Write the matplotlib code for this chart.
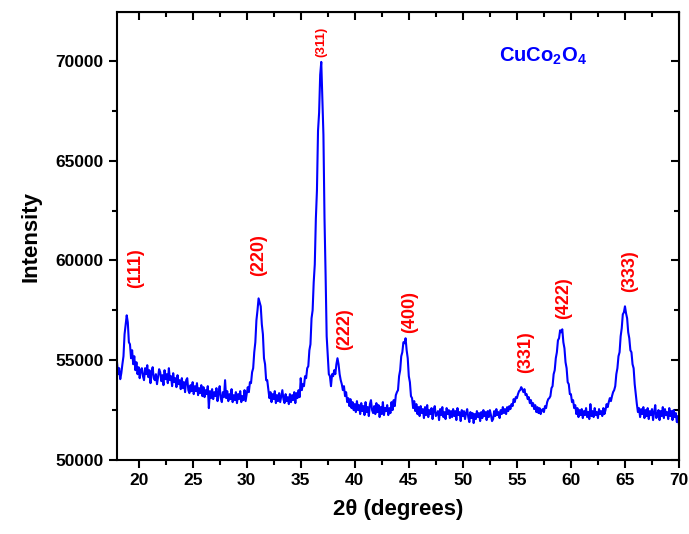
import numpy as np
import matplotlib
matplotlib.use("Agg")
import matplotlib.pyplot as plt
from matplotlib.ticker import MultipleLocator

plt.rcParams["font.family"] = ["Liberation Sans", "DejaVu Sans"]
plt.rcParams["font.weight"] = "bold"
plt.rcParams["mathtext.fontset"] = "custom"
plt.rcParams["mathtext.rm"] = "Liberation Sans:bold"
plt.rcParams["mathtext.bf"] = "Liberation Sans:bold"

# scan grid (0.1 degree step) and intensities
two_theta = np.round(np.arange(18.0, 70.01, 0.1), 1)
intensity = [
    54900, 54300, 54600, 54050, 54350, 54800, 55200, 56300, 56800, 57250,  # 18
    56900, 55900, 55800, 55100, 55500, 54800, 55200, 54500, 54900, 54300,  # 19
    54650, 54100, 54500, 54600, 54200, 54000, 54600, 54300, 54750, 54150,  # 20
    54500, 53850, 54400, 54650, 54100, 54000, 54300, 53800, 54150, 54550,  # 21
    54400, 53950, 54250, 53750, 54500, 54050, 54300, 53850, 54600, 54000,  # 22
    54200, 53700, 54350, 53900, 54100, 53650, 54250, 53800, 54000, 53550,  # 23
    54100, 53600, 53900, 53400, 54000, 54100, 53500, 53350, 53750, 53450,  # 24
    53900, 53300, 53700, 53450, 53850, 53250, 53600, 53350, 53750, 53200,  # 25
    53650, 53150, 53500, 53300, 53700, 52600, 53450, 53100, 53550, 53050,  # 26
    53400, 53200, 53600, 52950, 53350, 53700, 53100, 52900, 53400, 53150,  # 27
    54000, 53100, 53450, 52950, 53300, 53050, 53550, 52900, 53250, 53000,  # 28
    53400, 52850, 53300, 53050, 53450, 52900, 53200, 53000, 53500, 52950,  # 29
    53300, 53650, 53400, 53900, 53850, 54400, 54600, 55400, 55900, 57000,  # 30
    57500, 58100, 57900, 57700, 56800, 56300, 55100, 54800, 54000, 54000,  # 31
    53550, 53100, 53400, 52900, 53300, 53050, 53450, 52850, 53250, 52950,  # 32
    53350, 52900, 53200, 53500, 53050, 52850, 53300, 52950, 53150, 52800,  # 33
    53300, 52900, 53250, 53000, 53400, 52850, 53350, 53100, 53500, 53150,  # 34
    54100, 53500, 53800, 53700, 54200, 54100, 54600, 54700, 55500, 55800,  # 35
    57100, 57500, 58900, 59800, 62100, 63500, 66500, 67400, 69300, 69950,  # 36
    68200, 66300, 62100, 59300, 56200, 55200, 54300, 54200, 53700, 54300,  # 37
    54200, 54500, 54300, 54800, 55100, 54800, 54300, 54000, 53800, 53500,  # 38
    53700, 53200, 53400, 52900, 53100, 52700, 53050, 52600, 52900, 52500,  # 39
    52800, 52400, 52950, 52500, 52750, 52300, 52850, 52450, 52700, 52250,  # 40
    52900, 52400, 52650, 52200, 52800, 53000, 52500, 52350, 52700, 52300,  # 41
    52850, 52400, 52750, 52150, 52650, 52300, 52900, 52250, 52600, 52450,  # 42
    52750, 52250, 52600, 52350, 52900, 52500, 53000, 52700, 53250, 53400,  # 43
    53500, 54200, 54500, 55200, 55400, 55900, 55850, 56100, 55500, 55100,  # 44
    54200, 53900, 53200, 53100, 52600, 52950, 52450, 52800, 52300, 52650,  # 45
    52200, 52700, 52350, 52550, 52100, 52650, 52250, 52750, 52150, 52500,  # 46
    52300, 52600, 52050, 52500, 52700, 52200, 52300, 52450, 52000, 52550,  # 47
    52250, 52650, 52150, 52400, 52050, 52600, 52300, 52500, 52100, 52450,  # 48
    52150, 52550, 52200, 52450, 52000, 52600, 52250, 52400, 51950, 52500,  # 49
    52200, 52450, 52050, 52350, 52550, 52150, 51900, 52400, 52100, 52350,  # 50
    51850, 52300, 52050, 52450, 52150, 52350, 51950, 52400, 52100, 52500,  # 51
    52200, 52400, 52000, 52450, 52150, 52500, 52250, 51950, 52050, 52450,  # 52
    52200, 52550, 52250, 52400, 52100, 52500, 52300, 52650, 52350, 52550,  # 53
    52300, 52650, 52450, 52700, 52550, 52800, 52700, 53050, 52900, 53150,  # 54
    53100, 53300, 53450, 53500, 53650, 53550, 53400, 53550, 53250, 53300,  # 55
    53050, 53150, 52850, 53000, 52700, 52850, 52550, 52750, 52400, 52650,  # 56
    52350, 52600, 52300, 52500, 52550, 52400, 52700, 52600, 52900, 53050,  # 57
    53100, 53200, 53600, 53700, 54300, 54500, 55100, 55400, 56000, 56100,  # 58
    56500, 56400, 56550, 55900, 55600, 54900, 54600, 53900, 53800, 53300,  # 59
    53300, 52900, 53000, 52600, 52750, 52300, 52600, 52150, 52500, 52250,  # 60
    52550, 52100, 52450, 52250, 52600, 52150, 52400, 52050, 52800, 52200,  # 61
    52450, 52150, 52600, 52250, 52400, 52100, 52550, 52300, 52450, 52200,  # 62
    52600, 52300, 52500, 52800, 52650, 52900, 53100, 52950, 53200, 53400,  # 63
    53500, 53700, 54300, 54600, 55200, 55400, 56200, 56600, 57300, 57400,  # 64
    57700, 57350, 57100, 56400, 56100, 55500, 55400, 54800, 54600, 53800,  # 65
    53300, 52800, 52400, 52600, 52150, 52550, 52300, 52650, 52100, 52500,  # 66
    52200, 52600, 52050, 52450, 52250, 52550, 52000, 52400, 52750, 52100,  # 67
    52250, 52500, 52000, 52450, 52200, 52650, 52100, 52550, 52250, 52400,  # 68
    52050, 52600, 52200, 52450, 52000, 52500, 52150, 52350, 51900, 52200,  # 69
    51750,                                                                 # 70
]

# (hkl) labels and where they sit
hkl_labels = ["(111)", "(220)", "(311)", "(222)", "(400)", "(331)", "(422)", "(333)"]
hkl_x = [19.75, 31.1, 36.93, 39.1, 45.05, 55.8, 59.35, 65.45]
hkl_y = [59620, 60280, 70970, 56560, 57430, 55390, 58120, 59470]
hkl_size = [13, 13, 9.5, 13, 13, 13, 13, 13]

fig = plt.figure(figsize=(6.89, 5.34), dpi=100)
ax = fig.add_axes([0.1698, 0.1386, 0.8157, 0.8389])

ax.plot(two_theta, intensity, color="#0000ff", lw=1.5)

for lab, x, y, s in zip(hkl_labels, hkl_x, hkl_y, hkl_size):
    ax.text(x, y, lab, color="red", rotation=90, fontsize=s, fontweight="bold",
            ha="center", va="center")

ax.text(0.68, 0.9, r"$\mathbf{CuCo_2O_4}$", transform=ax.transAxes, color="#0000ff",
        fontsize=14.5, ha="left", va="center")

ax.set_xlim(18, 70)
ax.set_ylim(50000, 72450)
ax.xaxis.set_major_locator(MultipleLocator(5))
ax.xaxis.set_minor_locator(MultipleLocator(2.5))
ax.yaxis.set_major_locator(MultipleLocator(5000))
ax.yaxis.set_minor_locator(MultipleLocator(2500))

ax.tick_params(which="both", direction="out", width=1.5, labelsize=12.5)
ax.tick_params(which="major", length=6)
ax.tick_params(which="minor", length=3.5)
for spine in ax.spines.values():
    spine.set_linewidth(1.5)

# top and right ticks point inward
secx = ax.secondary_xaxis("top")
secx.xaxis.set_major_locator(MultipleLocator(5))
secx.xaxis.set_minor_locator(MultipleLocator(2.5))
secx.tick_params(which="both", direction="in", width=1.5, labeltop=False)
secx.tick_params(which="major", length=6)
secx.tick_params(which="minor", length=3.5)
secy = ax.secondary_yaxis("right")
secy.yaxis.set_major_locator(MultipleLocator(5000))
secy.yaxis.set_minor_locator(MultipleLocator(2500))
secy.tick_params(which="both", direction="in", width=1.5, labelright=False)
secy.tick_params(which="major", length=6)
secy.tick_params(which="minor", length=3.5)

ax.set_xlabel("2θ (degrees)", fontsize=16, fontweight="bold", labelpad=8)
ax.set_ylabel("Intensity", fontsize=16, fontweight="bold", labelpad=10)

fig.savefig("out.png", dpi=100)
